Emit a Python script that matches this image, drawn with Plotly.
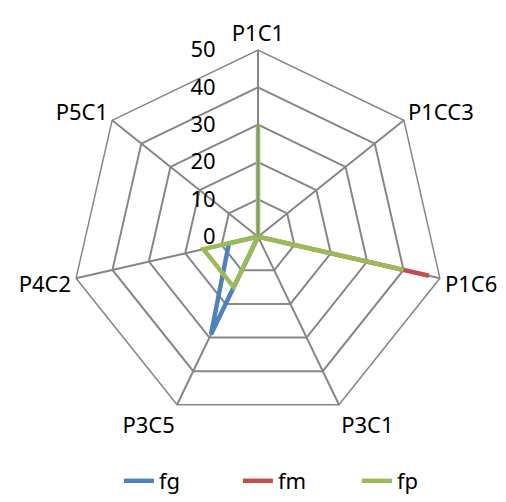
import plotly.graph_objects as go

categories = ["P1C1", "P1CC3", "P1C6", "P3C1", "P3C5", "P4C2", "P5C1"]
fg = [0, 0, 0, 0, 29, 8, 0]
fm = [0, 0, 47, 0, 0, 0, 0]
fp = [30, 0, 40, 0, 15, 15, 0]
radial_ticks = [0, 10, 20, 30, 40, 50]

series = [("fg", fg, "#4F81BD"), ("fm", fm, "#C0504D"), ("fp", fp, "#9BBB59")]

fig = go.Figure()
for name, vals, color in series:
    fig.add_trace(go.Scatterpolar(
        r=vals + vals[:1],
        theta=categories + categories[:1],
        mode="lines",
        name=name,
        line=dict(color=color, width=4.5),
    ))

W, H = 506, 502
cx, cy, R = 258, 241, 190
fig.update_layout(
    width=W, height=H,
    margin=dict(l=0, r=0, t=0, b=0),
    paper_bgcolor="white",
    plot_bgcolor="white",
    font=dict(family="Noto Sans, Liberation Sans, sans-serif", size=22, color="black"),
    polar=dict(
        domain=dict(x=[(cx - R) / W, (cx + R) / W], y=[1 - (cy + R) / H, 1 - (cy - R) / H]),
        bgcolor="white",
        gridshape="linear",
        angularaxis=dict(
            direction="clockwise", rotation=90,
            linecolor="#868686", linewidth=1.5,
            gridcolor="#868686", gridwidth=1.5,
            showline=True, ticks="",
            tickfont=dict(size=22),
        ),
        radialaxis=dict(
            range=[0, 50], tickvals=radial_ticks,
            angle=90, tickangle=90,
            side="counterclockwise",
            showline=True, linecolor="#868686", linewidth=1.5,
            gridcolor="#868686", gridwidth=1.5,
            ticks="outside", ticklen=34, tickcolor="rgba(0,0,0,0)",
            tickfont=dict(size=22),
        ),
    ),
    legend=dict(
        orientation="h", x=0.235, xanchor="left", y=1 - 490 / H, yanchor="middle",
        font=dict(size=22), entrywidth=74, entrywidthmode="pixels",
    ),
)

fig.write_html("out.html", config={"displayModeBar": False},
               post_script="document.body.style.margin='0';")
